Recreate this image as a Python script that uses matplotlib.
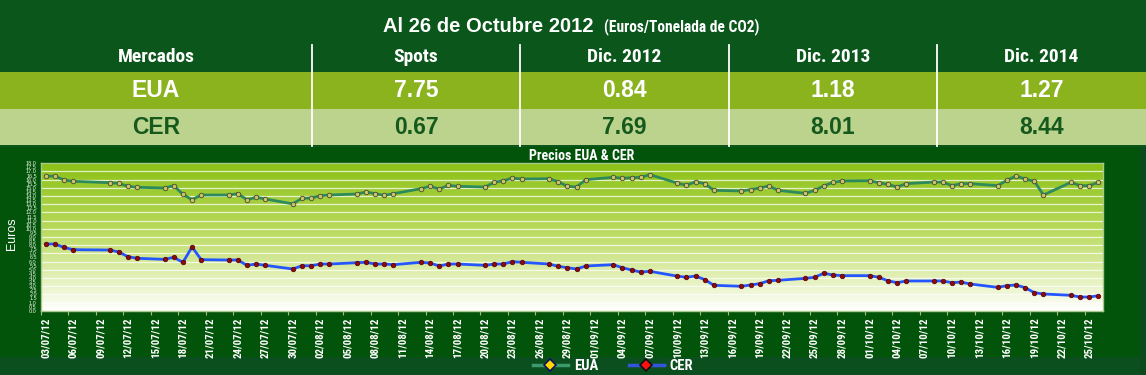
import matplotlib
matplotlib.use("Agg")
import matplotlib.pyplot as plt
import numpy as np
import pandas as pd
from matplotlib.patches import Rectangle
from matplotlib.lines import Line2D
from matplotlib.colors import LinearSegmentedColormap
from matplotlib.font_manager import FontProperties

# ---------------- data ----------------
title_main = "Al 26 de Octubre 2012"
title_unit = "(Euros/Tonelada de CO2)"
table_cols = ["Mercados", "Spots", "Dic. 2012", "Dic. 2013", "Dic. 2014"]
table_rows = ["EUA", "CER"]
eua_table = ["7.75", "0.84", "1.18", "1.27"]
cer_table = ["0.67", "7.69", "8.01", "8.44"]

chart_title = "Precios EUA & CER"
y_label = "Euros"

dates = [
    "03/07/12", "04/07/12", "05/07/12", "06/07/12",
    "10/07/12", "11/07/12", "12/07/12", "13/07/12",
    "16/07/12", "17/07/12", "18/07/12", "19/07/12", "20/07/12",
    "23/07/12", "24/07/12", "25/07/12", "26/07/12", "27/07/12",
    "30/07/12", "31/07/12", "01/08/12", "02/08/12", "03/08/12",
    "06/08/12", "07/08/12", "08/08/12", "09/08/12", "10/08/12",
    "13/08/12", "14/08/12", "15/08/12", "16/08/12", "17/08/12",
    "20/08/12", "21/08/12", "22/08/12", "23/08/12", "24/08/12",
    "27/08/12", "28/08/12", "29/08/12", "30/08/12", "31/08/12",
    "03/09/12", "04/09/12", "05/09/12", "06/09/12", "07/09/12",
    "10/09/12", "11/09/12", "12/09/12", "13/09/12", "14/09/12",
    "17/09/12", "18/09/12", "19/09/12", "20/09/12", "21/09/12",
    "24/09/12", "25/09/12", "26/09/12", "27/09/12", "28/09/12",
    "01/10/12", "02/10/12", "03/10/12", "04/10/12", "05/10/12",
    "08/10/12", "09/10/12", "10/10/12", "11/10/12", "12/10/12",
    "15/10/12", "16/10/12", "17/10/12", "18/10/12", "19/10/12", "20/10/12",
    "23/10/12", "24/10/12", "25/10/12", "26/10/12",
]

eua = [
    16.41, 16.45, 15.96, 15.80,
    15.63, 15.55, 15.19, 15.07,
    14.98, 15.27, 14.21, 13.55, 14.13,
    14.13, 14.29, 13.55, 13.85, 13.64,
    13.05, 13.72, 13.76, 14.04, 14.13,
    14.25, 14.49, 14.29, 14.09, 14.29,
    14.90, 15.19, 14.86, 15.31, 15.19,
    15.10, 15.68, 15.87, 16.20, 16.08,
    16.12, 15.75, 15.19, 15.10, 16.00,
    16.29, 16.17, 16.24, 16.29, 16.61,
    15.58, 15.31, 15.75, 15.51, 14.70,
    14.62, 14.78, 14.98, 15.23, 14.70,
    14.33, 14.70, 15.23, 15.68, 15.84,
    15.87, 15.63, 15.43, 15.10, 15.51,
    15.71, 15.71, 15.27, 15.51, 15.51,
    15.27, 15.92, 16.45, 16.08, 15.80, 14.13,
    15.68, 15.27, 15.27, 15.68,
]

cer = [
    8.14, 8.14, 7.74, 7.45,
    7.41, 7.17, 6.59, 6.40,
    6.27, 6.52, 5.91, 7.78, 6.23,
    6.19, 6.19, 5.54, 5.70, 5.54,
    5.09, 5.49, 5.49, 5.70, 5.70,
    5.86, 5.91, 5.70, 5.70, 5.62,
    5.91, 5.82, 5.46, 5.70, 5.70,
    5.54, 5.70, 5.70, 5.99, 5.91,
    5.70, 5.42, 5.25, 5.09, 5.46,
    5.62, 5.25, 4.97, 4.72, 4.81,
    4.22, 4.08, 4.24, 3.79, 3.10,
    2.98, 3.14, 3.30, 3.66, 3.71,
    3.95, 4.08, 4.57, 4.36, 4.28,
    4.28, 4.08, 3.66, 3.42, 3.63,
    3.63, 3.63, 3.42, 3.50, 3.26,
    2.85, 3.06, 3.14, 2.81, 2.20, 2.04,
    1.88, 1.67, 1.67, 1.83,
]

axis_start = "03/07/12"
axis_end = "26/10/12"
y_min, y_max, y_label_step, y_grid_step = 0.0, 18.0, 0.5, 1.0

# ---------------- figure ----------------
W, H = 1146, 375
fig = plt.figure(figsize=(W / 100, H / 100), dpi=100)

NARROW = ['Roboto Condensed', 'PT Sans Narrow', 'DejaVu Sans']
ARIAL = ['Liberation Sans', 'DejaVu Sans']

HEAD_BG = '#0a561b'
EUA_BG = '#8bb31d'
CER_BG = '#bcd38d'
PANEL_BG = '#03540b'
LEG_BG = '#0c4f1f'
CER_TXT = '#15591d'

bg = fig.add_axes([0, 0, 1, 1])
bg.set_xlim(0, W)
bg.set_ylim(H, 0)
bg.axis('off')
bg.add_patch(Rectangle((0, 0), W, 147, color=HEAD_BG, lw=0))
bg.add_patch(Rectangle((0, 72), W, 37, color=EUA_BG, lw=0))
bg.add_patch(Rectangle((0, 109), W, 36, color=CER_BG, lw=0))
bg.add_patch(Rectangle((0, 147), 1140, 210, color=PANEL_BG, lw=0))
bg.add_patch(Rectangle((1140, 147), 6, 228, color='#0a4a1c', lw=0))
bg.add_patch(Rectangle((0, 357), 1140, 18, color=LEG_BG, lw=0))

# title
bg.text(383, 31.5, title_main, color='white', family=ARIAL, weight='bold',
        fontsize=14.5, ha='left', va='baseline')
bg.text(604, 31.5, title_unit, color='white', family=NARROW, weight='bold',
        fontsize=11.2, ha='left', va='baseline')

# table
col_edges = [0, 312, 520, 729, 937, W]
for xe in col_edges[1:-1]:
    bg.plot([xe, xe], [45, 146], color='white', lw=1.3)
centers = [(col_edges[i] + col_edges[i + 1]) / 2 for i in range(5)]
for c, name in zip(centers, table_cols):
    bg.text(c, 57.5, name, color='white', family=NARROW, weight='bold',
            fontsize=14, ha='center', va='center')
row_y = [90.5, 127]
row_vals = [eua_table, cer_table]
row_col = ['white', CER_TXT]
for ry, rname, vals, tc in zip(row_y, table_rows, row_vals, row_col):
    bg.text(centers[0], ry, rname, color=tc, family=ARIAL, weight='bold',
            fontsize=16.5, ha='center', va='center')
    for c, v in zip(centers[1:], vals):
        bg.text(c, ry, v, color=tc, family=ARIAL, weight='bold',
                fontsize=16.5, ha='center', va='center')

# chart title & y label
bg.text(582, 156, chart_title, color='white', family=NARROW, weight='bold',
        fontsize=10, ha='center', va='center')
bg.text(12, 234, y_label, color='white', family=ARIAL, fontsize=9,
        rotation=90, ha='center', va='center')

# ---------------- plot ----------------
x0, x1, yt, yb = 41, 1103, 163.3, 310.7
ax = fig.add_axes([x0 / W, 1 - yb / H, (x1 - x0) / W, (yb - yt) / H])

d0 = pd.to_datetime(axis_start, format='%d/%m/%y')
dend = pd.to_datetime(axis_end, format='%d/%m/%y')
ndays = (dend - d0).days
xs = (pd.to_datetime(dates, format='%d/%m/%y') - d0).days.values

cmap = LinearSegmentedColormap.from_list(
    'g', [(0.0, '#8bc116'), (0.45, '#b9da5c'), (0.8, '#e6f2c0'), (1.0, '#ffffff')])
grad = np.linspace(0, 1, 256).reshape(-1, 1)
ax.imshow(grad, extent=[-0.5, ndays + 0.5, y_min, y_max], aspect='auto',
          origin='upper', cmap=cmap, zorder=0, interpolation='bicubic')

for v in np.arange(y_min + y_grid_step, y_max, y_grid_step):
    ax.axhline(v, color='white', lw=0.9, alpha=0.75, zorder=1)

ax.plot(xs, eua, color='#2d8a5c', lw=2.0, marker='o', ms=3.3,
        mfc='#c9c468', mec='#4a4a2a', mew=0.6, zorder=3)
ax.plot(xs, cer, color='#2356ff', lw=2.0, marker='o', ms=3.3,
        mfc='#8c0a0a', mec='#5a0000', mew=0.5, zorder=3)

ax.set_xlim(-0.5, ndays + 0.5)
ax.set_ylim(y_min, y_max)

tick_days = np.arange(0, ndays + 1, 3)
tick_labels = [(d0 + pd.Timedelta(days=int(d))).strftime('%d/%m/%y') for d in tick_days]
ax.set_xticks(tick_days)
ax.set_xticklabels(tick_labels, rotation=90, color='white',
                   fontfamily=NARROW, fontweight='bold', fontsize=7.8)
ax.set_xticks(tick_days - 0.5, minor=True)
ax.tick_params(axis='x', which='major', length=0, pad=5)
ax.tick_params(axis='x', which='minor', length=3, color='#9fc07a', width=0.8)

yticks = np.arange(y_min, y_max + 0.001, y_label_step)
ax.set_yticks(yticks)
ax.set_yticklabels([f"{v:.1f}" for v in yticks], color='#e8f0e0',
                   fontfamily=ARIAL, fontsize=4)
ax.tick_params(axis='y', length=0, pad=3)

for s in ax.spines.values():
    s.set_color('#a9c98a')
    s.set_linewidth(1.0)

# legend
handles = [
    Line2D([], [], color='#3a9a6a', lw=2.5, marker='D', ms=6,
           mfc='#ffd800', mec='#101060', mew=1.2),
    Line2D([], [], color='#3355dd', lw=2.5, marker='D', ms=6,
           mfc='#ff1010', mec='#101010', mew=1.2),
]
leg = fig.legend(handles, ['EUA', 'CER'], loc='center',
                 bbox_to_anchor=(613 / W, 1 - 366 / H), ncol=2, frameon=False,
                 prop=FontProperties(family=NARROW, weight='bold', size=10.5),
                 handlelength=2.4, handletextpad=0.4, columnspacing=2.1,
                 borderpad=0, borderaxespad=0)
for t in leg.get_texts():
    t.set_color('white')

fig.savefig('out.png', dpi=100, facecolor=HEAD_BG)
